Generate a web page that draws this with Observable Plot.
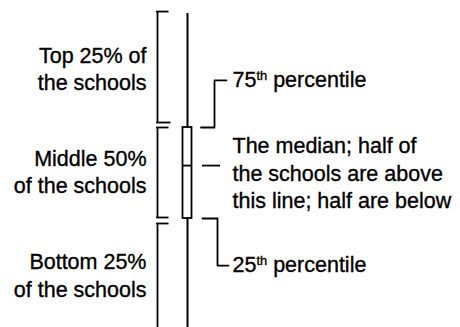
<!DOCTYPE html>
<html>
<head>
<meta charset="utf-8">
<script src="https://cdn.jsdelivr.net/npm/d3@7"></script>
<script src="https://cdn.jsdelivr.net/npm/@observablehq/plot@0.6"></script>
<style>
  html, body { margin: 0; padding: 0; background: #fff; }
  #chart svg { display: block; }
  #chart svg text { stroke: #000; stroke-width: 0.35px; paint-order: stroke; }
</style>
</head>
<body>
<div id="chart"></div>
<script>
// ---- Data (schematic score scale) ----
const statNames  = ["min", "q1", "median", "q3", "max"];
const statValues = [-1.6, 37.5, 56.4, 70, 110.7];
const groupLabels = ["Top 25% of\nthe schools", "Middle 50%\nof the schools", "Bottom 25%\nof the schools"];
const noteLabels  = ["75th percentile", "The median; half of\nthe schools are above\nthis line; half are below", "25th percentile"];

const S = Object.fromEntries(statNames.map((n, i) => [n, statValues[i]]));

// ---- Layout constants (pixels on the x layout scale) ----
const W = 460, H = 327;
const whiskerX = 187, boxX1 = 182.5, boxX2 = 191.5;
const brX = 157, brTick = 168.5;
const leadX1 = 200.5, elbow75 = 214, elbow25 = 217, leadEnd75 = 226, leadEnd25 = 228;
const rightX = 232, leftX = 146;
const label75 = 86.8, label25 = 20.7; // label levels on the score scale

const font = "Liberation Sans, Arial, sans-serif";
const fs = 21.5;
const sw = 1.8;

const lead75 = [[leadX1, S.q3], [elbow75, S.q3], [elbow75, label75], [leadEnd75, label75]];
const lead25 = [[leadX1 + 1.5, S.q1], [elbow25, S.q1], [elbow25, label25], [leadEnd25, label25]];

const chart = Plot.plot({
  width: W, height: H,
  margin: 0,
  style: { background: "#fff", fontFamily: font },
  x: { domain: [0, W], axis: null },
  y: { domain: [-1.43, 115.36], axis: null },
  marks: [
    // whisker
    Plot.ruleX([S.min], { x: whiskerX, y1: S.min, y2: S.max, stroke: "#000", strokeWidth: 2 }),
    // box
    Plot.rect([0], { x1: boxX1, x2: boxX2, y1: S.q1, y2: S.q3, fill: "#fff", stroke: "#000", strokeWidth: sw }),
    Plot.ruleY([S.median], { x1: boxX1, x2: boxX2, y: d => d, stroke: "#000", strokeWidth: sw }),
    // brackets (verticals)
    Plot.ruleX([0], { x: brX, y1: S.max, y2: S.q3, insetTop: -2, insetBottom: 5, stroke: "#000", strokeWidth: sw }),
    Plot.ruleX([0], { x: brX, y1: S.q3, y2: S.q1, insetBottom: 1, stroke: "#000", strokeWidth: sw }),
    Plot.ruleX([0], { x: brX, y1: S.q1, y2: S.min, insetTop: 5, insetBottom: -5, stroke: "#000", strokeWidth: sw }),
    // bracket ticks
    Plot.ruleY([S.max], { y: d => d, x1: brX - 0.9, x2: brTick, dy: -2, stroke: "#000", strokeWidth: sw }),
    Plot.ruleY([S.q3], { y: d => d, x1: brX - 0.9, x2: brTick + 2, dy: -5, stroke: "#000", strokeWidth: sw }),
    Plot.ruleY([S.q3], { y: d => d, x1: brX - 0.9, x2: brTick, stroke: "#000", strokeWidth: sw }),
    Plot.ruleY([S.q1], { y: d => d, x1: brX - 0.9, x2: brTick, dy: -1, stroke: "#000", strokeWidth: sw }),
    Plot.ruleY([S.q1], { y: d => d, x1: brX - 0.9, x2: brTick, dy: 5, stroke: "#000", strokeWidth: sw }),
    // leaders
    Plot.line(lead75, { x: d => d[0], y: d => d[1], stroke: "#000", strokeWidth: sw, curve: "linear" }),
    Plot.ruleY([S.median], { y: d => d, x1: leadX1 + 1.5, x2: 220, stroke: "#000", strokeWidth: sw }),
    Plot.line(lead25, { x: d => d[0], y: d => d[1], stroke: "#000", strokeWidth: sw, curve: "linear" }),
    // left labels
    Plot.text([groupLabels[0]], { x: leftX, y: (S.max + S.q3) / 2, dy: -3, text: d => d, textAnchor: "end", fontSize: fs, lineHeight: 1.3, fill: "#000" }),
    Plot.text([groupLabels[1]], { x: leftX, y: (S.q3 + S.q1) / 2, dy: -2.5, text: d => d, textAnchor: "end", fontSize: fs, lineHeight: 1.25, fill: "#000" }),
    Plot.text([groupLabels[2]], { x: leftX, y: (S.q1 + S.min) / 2, dy: 1, text: d => d, textAnchor: "end", fontSize: fs, lineHeight: 1.28, fill: "#000" }),
    // right labels
    Plot.text([noteLabels[0]], { x: rightX, y: label75, text: d => d, textAnchor: "start", fontSize: fs, fill: "#000" }),
    Plot.text([noteLabels[1]], { x: rightX, y: S.median, dy: 6, text: d => d, textAnchor: "start", fontSize: fs, lineHeight: 1.3, fill: "#000" }),
    Plot.text([noteLabels[2]], { x: rightX, y: label25, text: d => d, textAnchor: "start", fontSize: fs, fill: "#000" })
  ]
});

// Superscript ordinals ("75th" -> 75 + raised "th")
d3.select(chart).selectAll("text").each(function () {
  const t = d3.select(this);
  if (this.querySelector("tspan")) return;
  const m = /^(\d+)(th)(\s.*)$/.exec(this.textContent);
  if (!m) return;
  t.text(null);
  t.append("tspan").text(m[1]);
  t.append("tspan").attr("font-size", "0.6em").attr("dy", "-0.55em").text(m[2]);
  t.append("tspan").attr("dy", "0.33em").text(m[3]);
});

document.getElementById("chart").appendChild(chart);
</script>
</body>
</html>
